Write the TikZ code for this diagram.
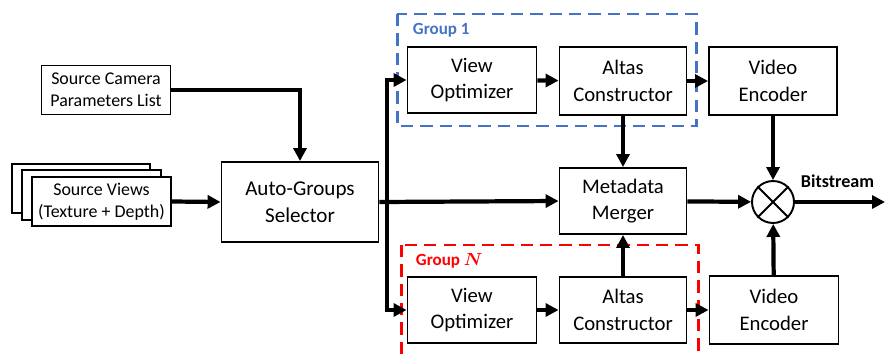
\documentclass[tikz,border=0pt]{standalone}
\usepackage{amsmath,bm}
\usepackage{fontspec}
\setmainfont{Carlito}
\usetikzlibrary{arrows.meta,positioning}
\definecolor{grpblue}{HTML}{4472C4}

\begin{document}
\begin{tikzpicture}[x=0.02cm, y=-0.02cm, line width=1.1pt, >={Triangle[length=2.6mm,width=2.6mm]},
  blk/.style={draw, fill=white, align=center, inner sep=0pt, font=\fontsize{11.8}{15}\selectfont},
  arr/.style={->, line width=2.4pt},
  grp/.style={dash pattern=on 7pt off 4pt, line width=1.7pt}]
  \useasboundingbox (0,0) rectangle (885,355);
  % entradas
  \node[blk, minimum width=2.58cm, minimum height=0.98cm, font=\fontsize{10.2}{12.3}\selectfont]
    (cam) at (106,90) {Source Camera\\Parameters List};
  \draw[fill=white] (12,164) rectangle (150,213);
  \draw[fill=white] (22,170) rectangle (161,220);
  \node[blk, minimum width=2.78cm, minimum height=0.98cm, font=\fontsize{10.2}{12.3}\selectfont]
    (views) at (101.5,201.5) {Source Views\\(Texture + Depth)};
  \node[blk, minimum width=3.14cm, minimum height=1.6cm, font=\fontsize{12}{15.5}\selectfont]
    (sel) at (300,202) {Auto-Groups\\Selector};
  % grupo 1
  \draw[grp, grpblue] (397,14) rectangle (696,126);
  \node[anchor=west, text=grpblue, font=\fontsize{9.7}{11}\selectfont\bfseries, inner sep=0pt] (g1) at (412,30) {Group 1};
  \node[blk, minimum width=2.58cm, minimum height=1.32cm] (vo1) at (472,80) {View\\Optimizer};
  \node[blk, minimum width=2.54cm, minimum height=1.36cm] (ac1) at (623,81) {Altas\\Constructor};
  \node[blk, minimum width=2.56cm, minimum height=1.36cm] (ve1) at (773,81) {Video\\Encoder};
  % grupo N
  \draw[grp, red] (401,245) -- (401,370) (698,370) -- (698,245) -- (401,245);
  \node[anchor=west, text=red, font=\fontsize{9.7}{11}\selectfont\bfseries, inner sep=0pt] (gn) at (415,261) {Group $\bm{N}$};
  \node[blk, minimum width=2.58cm, minimum height=1.32cm] (vo2) at (472,310) {View\\Optimizer};
  \node[blk, minimum width=2.54cm, minimum height=1.32cm] (ac2) at (623,310) {Altas\\Constructor};
  \node[blk, minimum width=2.58cm, minimum height=1.36cm] (ve2) at (774,310) {Video\\Encoder};
  % salida
  \node[blk, minimum width=2.54cm, minimum height=1.32cm] (mm) at (623,201) {Metadata\\Merger};
  \node[draw, circle, minimum size=0.84cm, inner sep=0pt] (mux) at (773,202) {};
  \draw (mux.north east) -- (mux.south west) (mux.north west) -- (mux.south east);
  \coordinate (split) at (387,202);
  \coordinate (out) at (885,202);
  \node[anchor=west, font=\fontsize{10.3}{11}\selectfont\bfseries, inner sep=0pt] (bits) at (800,181) {Bitstream};
  % flechas
  \draw[arr] (cam.east) -| (sel.north);
  \draw[arr] (views.east) -- (sel.west);
  \draw[arr] (sel.east) -- (mm.west);
  \draw[arr] (split) |- (vo1.west);
  \draw[arr] (split) |- (vo2.west);
  \draw[arr] (vo1) -- (ac1);
  \draw[arr] (ac1) -- (ve1);
  \draw[arr] (vo2) -- (ac2);
  \draw[arr] (ac2) -- (ve2);
  \draw[arr] (ac1) -- (mm);
  \draw[arr] (ac2) -- (mm);
  \draw[arr] (ve1) -- (mux);
  \draw[arr] (ve2) -- (mux);
  \draw[arr] (mm) -- (mux);
  \draw[arr] (mux) -- (out);
\end{tikzpicture}
\end{document}
